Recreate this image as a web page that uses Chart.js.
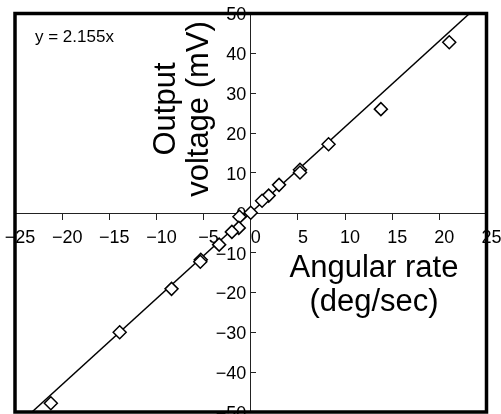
<!DOCTYPE html>
<html>
<head>
<meta charset="utf-8">
<script src="https://cdn.jsdelivr.net/npm/chart.js@4.4.1/dist/chart.umd.min.js"></script>
<style>
  body { margin: 0; background: #fff; }
</style>
</head>
<body>
<canvas id="chart" width="501" height="414"></canvas>
<script>
// measured points (angular rate in deg/sec, output in mV)
const rateValues = [21.05, 13.8, 8.25, 5.22, 5.22, 3.0, 1.9, 1.2, 0, -1.2, -1.27, -2.0, -3.35, -5.3, -5.35, -8.4, -13.9, -21.2];
const voltValues = [42.8, 26.0, 17.2, 10.8, 10.1, 7.0, 4.3, 3.0, 0, -1.0, -3.8, -4.8, -8.0, -11.8, -12.3, -19.1, -30.0, -47.8];

// fitted line y = 2.155x, ends where it leaves the frame
const fitX = [-23.2, 23.2];
const fitY = [-50, 50];

const equationText = "y = 2.155x";
const yTitle = ["Output", "voltage (mV)"];
const xTitle = ["Angular rate", "(deg/sec)"];

const tickFont = { family: "'Liberation Sans', Arial, sans-serif", size: 18 };

function minusLabel(v) {
    return v < 0 ? "\u2212" + Math.abs(v) : String(v);
}

// axes sit in the middle, so their label overflow should not shrink the plot
function noPadding(scale) {
    scale.paddingLeft = 0;
    scale.paddingRight = 0;
    scale.paddingTop = 0;
    scale.paddingBottom = 0;
}

// frame and free text drawn on top of the chart
const decorations = {
    id: "decorations",
    afterDraw(chart) {
        const c = chart.ctx;
        const a = chart.chartArea;
        c.save();
        c.fillStyle = "#000";
        c.font = "17px 'Liberation Sans', Arial, sans-serif";
        c.textAlign = "left";
        c.textBaseline = "alphabetic";
        c.fillText(equationText, 35, 42);

        c.font = "31px 'Liberation Sans', Arial, sans-serif";
        c.textAlign = "center";
        c.fillText(xTitle[0], 374, 277);
        c.fillText(xTitle[1], 374, 311);

        c.save();
        c.translate(175, 109);
        c.rotate(-Math.PI / 2);
        c.fillText(yTitle[0], 0, 0);
        c.restore();
        c.save();
        c.translate(208, 109);
        c.rotate(-Math.PI / 2);
        c.fillText(yTitle[1], 0, 0);
        c.restore();

        c.lineWidth = 3.5;
        c.strokeStyle = "#000";
        c.strokeRect(a.left, a.top, a.right - a.left, a.bottom - a.top);
        c.restore();
    }
};

const ctx = document.getElementById("chart");
Chart.defaults.color = "#000";

const chart = new Chart(ctx, {
    type: "scatter",
    data: {
        datasets: [
            {
                data: rateValues.map((x, i) => ({ x: x, y: voltValues[i] })),
                pointStyle: "rectRot",
                pointRadius: 6.5,
                borderColor: "#000",
                backgroundColor: "#fff",
                borderWidth: 1.5,
            },
            {
                data: fitX.map((x, i) => ({ x: x, y: fitY[i] })),
                showLine: true,
                pointRadius: 0,
                borderColor: "#000",
                borderWidth: 1.5,
            }
        ]
    },
    options: {
        responsive: false,
        animation: false,
        devicePixelRatio: 1,
        layout: {
            autoPadding: false,
            padding: { left: 15, top: 13.5, right: 14.5, bottom: 2 }
        },
        plugins: {
            legend: { display: false },
            tooltip: { enabled: false }
        },
        scales: {
            x: {
                type: "linear",
                position: "center",
                min: -25,
                max: 25,
                afterFit: noPadding,
                border: { color: "#222", width: 1 },
                grid: {
                    display: true,
                    drawOnChartArea: false,
                    drawTicks: true,
                    tickLength: 6,
                    color: "#222"
                },
                ticks: {
                    stepSize: 5,
                    autoSkip: false,
                    maxRotation: 0,
                    padding: 8,
                    labelOffset: 5,
                    font: tickFont,
                    callback: minusLabel
                }
            },
            y: {
                type: "linear",
                position: "center",
                min: -50,
                max: 50,
                afterFit: noPadding,
                border: { color: "#222", width: 1 },
                grid: {
                    display: true,
                    drawOnChartArea: false,
                    drawTicks: true,
                    tickLength: -6,
                    color: "#222"
                },
                ticks: {
                    stepSize: 10,
                    autoSkip: false,
                    padding: 10.5,
                    labelOffset: 2,
                    font: tickFont,
                    callback: minusLabel
                }
            }
        }
    },
    plugins: [decorations]
});
</script>
</body>
</html>
